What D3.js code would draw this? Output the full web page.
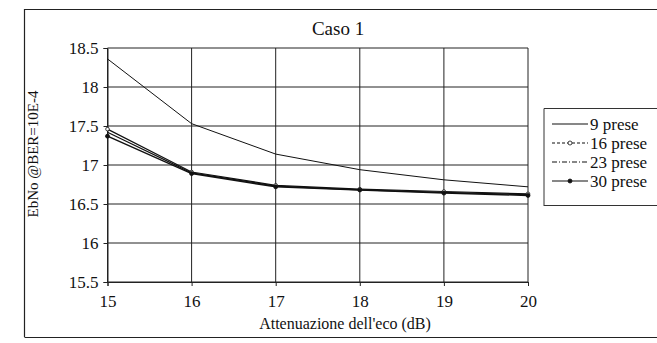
<!DOCTYPE html>
<html>
<head>
<meta charset="utf-8">
<script src="https://cdn.jsdelivr.net/npm/d3@7"></script>
<style>
  html, body { margin: 0; padding: 0; background: #fff; }
  svg { display: block; }
  svg text { font-family: "Liberation Serif", "DejaVu Serif", serif !important; }
</style>
</head>
<body>
<svg id="chart" width="657" height="343"></svg>
<script>
// Echo attenuation (dB) on the x axis
const attenuation = [15, 16, 17, 18, 19, 20];
// Required Eb/No at BER = 1e-4 for each tap count
const prese9  = [18.36, 17.53, 17.14, 16.94, 16.81, 16.72];
const prese16 = [17.46, 16.91, 16.74, 16.69, 16.66, 16.63];
const prese23 = [17.42, 16.90, 16.73, 16.68, 16.65, 16.62];
const prese30 = [17.37, 16.89, 16.72, 16.68, 16.64, 16.61];
const seriesNames = ["9 prese", "16 prese", "23 prese", "30 prese"];
const yTicks = [15.5, 16, 16.5, 17, 17.5, 18, 18.5];
const xTicks = [15, 16, 17, 18, 19, 20];

const series = [
  { name: seriesNames[0], values: prese9,  width: 1.0, marker: "none" },
  { name: seriesNames[1], values: prese16, width: 1.2, marker: "open" },
  { name: seriesNames[2], values: prese23, width: 1.2, marker: "none" },
  { name: seriesNames[3], values: prese30, width: 1.5, marker: "dot" }
];

const svg = d3.select("#chart");
const plot = { left: 107.5, right: 528, top: 48, bottom: 282 };

const x = d3.scaleLinear().domain([15, 20]).range([plot.left, plot.right]);
const y = d3.scaleLinear().domain([15.5, 18.5]).range([plot.bottom, plot.top]);

// outer chart frame
svg.append("path")
  .attr("d", "M24.5,337 L24.5,9.5 L660,9.5 M24.5,337.5 L660,337.5")
  .attr("fill", "none").attr("stroke", "#222").attr("stroke-width", 1.2);

// title
svg.append("text").attr("x", 338).attr("y", 35).attr("text-anchor", "middle")
  .attr("font-size", 19).attr("fill", "#111").text("Caso 1");

// grid
const g = svg.append("g");
g.selectAll("line.h").data(yTicks).join("line")
  .attr("x1", plot.left).attr("x2", plot.right)
  .attr("y1", d => y(d)).attr("y2", d => y(d))
  .attr("stroke", "#222").attr("stroke-width", 1);
g.selectAll("line.v").data(xTicks).join("line")
  .attr("y1", plot.top).attr("y2", plot.bottom)
  .attr("x1", d => x(d)).attr("x2", d => x(d))
  .attr("stroke", "#222").attr("stroke-width", 1);

// axes
const yAxis = d3.axisLeft(y).tickValues(yTicks).tickSize(4).tickPadding(5)
  .tickFormat(d => String(d));
const xAxis = d3.axisBottom(x).tickValues(xTicks).tickSize(4).tickPadding(9)
  .tickFormat(d => String(d));

const ya = svg.append("g").attr("transform", `translate(${plot.left},0)`).call(yAxis);
const xa = svg.append("g").attr("transform", `translate(0,${plot.bottom})`).call(xAxis);
[ya, xa].forEach(a => {
  a.select(".domain").attr("stroke", "#222");
  a.selectAll(".tick line").attr("stroke", "#222");
  a.selectAll("text").attr("font-size", 17).attr("fill", "#111");
});
ya.selectAll("text").attr("dy", "0.35em");

// axis titles
svg.append("text").attr("x", 345).attr("y", 329).attr("text-anchor", "middle")
  .attr("font-size", 16).attr("fill", "#111").text("Attenuazione dell'eco (dB)");
svg.append("text")
  .attr("transform", "translate(38,154) rotate(-90)")
  .attr("text-anchor", "middle").attr("font-size", 15).attr("fill", "#111")
  .text("EbNo @BER=10E-4");

// series lines
const line = d3.line().x((d, i) => x(attenuation[i])).y(d => y(d));
series.forEach(s => {
  svg.append("path").datum(s.values)
    .attr("d", line).attr("fill", "none")
    .attr("stroke", "#111").attr("stroke-width", s.width);
  if (s.marker !== "none") {
    svg.selectAll(null).data(s.values).join("circle")
      .attr("cx", (d, i) => x(attenuation[i])).attr("cy", d => y(d))
      .attr("r", s.marker === "dot" ? 2 : 1.8)
      .attr("fill", s.marker === "dot" ? "#111" : "#fff")
      .attr("stroke", "#111").attr("stroke-width", 0.8);
  }
});

// legend
const lg = svg.append("g");
lg.append("path").attr("d", "M544,206 L544,108.5 L670,108.5 M544,205.5 L670,205.5")
  .attr("fill", "none").attr("stroke", "#333").attr("stroke-width", 1);
const legendDash = [null, "3,2", "5,2,1,2", null];
series.forEach((s, i) => {
  const ly = 124 + i * 19;
  lg.append("line").attr("x1", 552).attr("x2", 588).attr("y1", ly).attr("y2", ly)
    .attr("stroke", "#111").attr("stroke-width", 1.2)
    .attr("stroke-dasharray", legendDash[i]);
  if (s.marker !== "none") {
    lg.append("circle").attr("cx", 570).attr("cy", ly).attr("r", 2)
      .attr("fill", s.marker === "dot" ? "#111" : "#fff")
      .attr("stroke", "#111").attr("stroke-width", 0.8);
  }
  lg.append("text").attr("x", 590).attr("y", ly).attr("dy", "0.35em")
    .attr("font-size", 17).attr("fill", "#111").text(s.name);
});
</script>
</body>
</html>
